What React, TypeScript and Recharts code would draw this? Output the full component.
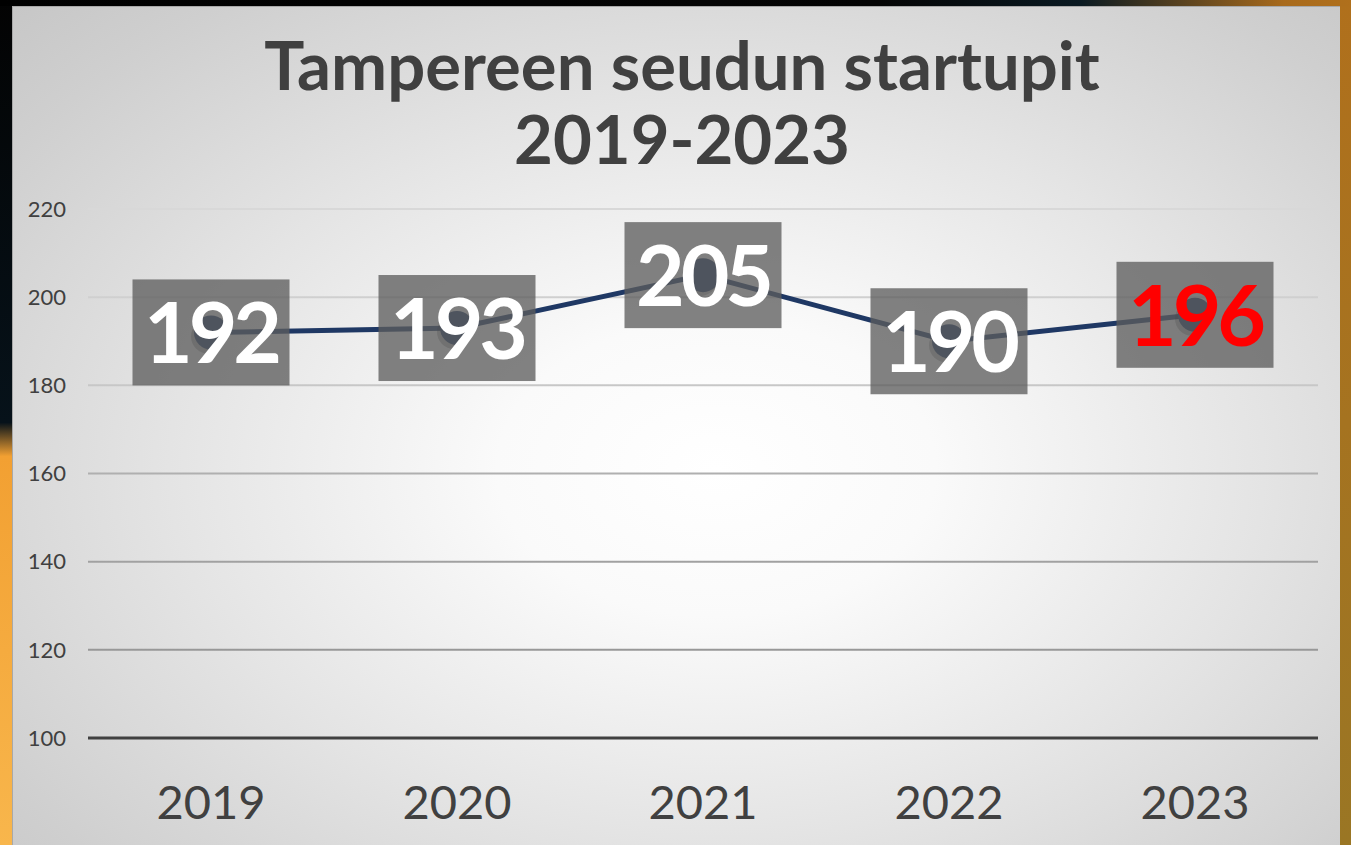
import { LineChart, Line, XAxis, YAxis, CartesianGrid } from 'recharts'

const years = ['2019', '2020', '2021', '2022', '2023']
const startups = [192, 193, 205, 190, 196]
const yTicks = [100, 120, 140, 160, 180, 200, 220]
const highlightYear = '2023'

const data = years.map((year, i) => ({ year, startups: startups[i] }))

const FONT = 'Lato, "Open Sans", sans-serif'
const INK = '#404040'

function ValueLabel(props: any) {
    const { x, y, value, index } = props
    const red = years[index] === highlightYear
    return (
        <g>
            <rect x={x - 78.5} y={y - 53} width={157} height={106} fill="#5d5d5d" fillOpacity={0.77} />
            <text
                x={x}
                y={y + 31}
                textAnchor="middle"
                fontFamily={FONT}
                fontSize={84}
                fontWeight={700}
                letterSpacing={-4}
                fill={red ? '#ff0000' : '#ffffff'}
            >
                {value}
            </text>
        </g>
    )
}

function Marker(props: any) {
    const { cx, cy, index } = props
    return (
        <g key={`m-${index}`}>
            <circle cx={cx - 3} cy={cy + 4} r={17} fill="#000" fillOpacity={0.25} />
            <circle cx={cx} cy={cy} r={17} fill="#1f3864" />
        </g>
    )
}

export default function App() {
    return (
        <div
            style={{
                position: 'absolute',
                left: 0,
                top: 0,
                width: 1351,
                height: 845,
                overflow: 'hidden',
                background: 'linear-gradient(to bottom, #030303 0%, #06121a 50%, #f2a032 54%, #f8b64c 100%)',
            }}
        >
            <div
                style={{
                    position: 'absolute',
                    right: 0,
                    top: 0,
                    width: 14,
                    height: 845,
                    background: 'linear-gradient(to bottom, #b0701c 0%, #9a7624 100%)',
                }}
            />
            <div
                style={{
                    position: 'absolute',
                    left: 0,
                    top: 0,
                    width: 1351,
                    height: 6,
                    background: 'linear-gradient(to right, #000 0%, #050505 65%, #0a1a22 80%, #a86a1c 95%, #b0701c 100%)',
                }}
            />
            <div
                style={{
                    position: 'absolute',
                    left: 12,
                    top: 6,
                    width: 1327,
                    height: 839,
                    background:
                        'radial-gradient(ellipse 75% 80% at 53% 55%, #ffffff 0%, #fafafa 22%, #e4e4e4 55%, #cfcfcf 85%, #c6c6c6 100%)',
                    borderTop: '1px solid #a8a8a8',
                    borderLeft: '1px solid #a8a8a8',
                }}
            />
            <div
                style={{
                    position: 'absolute',
                    left: 0,
                    top: 27,
                    width: 1364,
                    textAlign: 'center',
                    fontFamily: FONT,
                    fontWeight: 700,
                    fontSize: 67,
                    lineHeight: '74px',
                    color: INK,
                }}
            >
                Tampereen seudun startupit
                <br />
                2019-2023
            </div>
            <div style={{ position: 'absolute', left: 0, top: 0 }}>
                <LineChart width={1351} height={845} data={data} margin={{ top: 209, right: 33, bottom: 7, left: 28 }}>
                    <defs>
                        <linearGradient id="gridShade" gradientUnits="userSpaceOnUse" x1={0} y1={209} x2={0} y2={738}>
                            <stop offset="0%" stopColor="#d8d8d8" />
                            <stop offset="35%" stopColor="#c6c6c6" />
                            <stop offset="55%" stopColor="#a8a8a8" />
                            <stop offset="100%" stopColor="#8e8e8e" />
                        </linearGradient>
                    </defs>
                    <CartesianGrid vertical={false} stroke="url(#gridShade)" strokeWidth={2} />
                    <XAxis
                        dataKey="year"
                        height={100}
                        padding={{ left: 123, right: 123 }}
                        tickLine={false}
                        tickMargin={42}
                        axisLine={{ stroke: INK, strokeWidth: 3 }}
                        tick={{ fontFamily: FONT, fontSize: 47, fill: INK }}
                    />
                    <YAxis
                        width={60}
                        domain={[100, 220]}
                        ticks={yTicks}
                        tickLine={false}
                        axisLine={false}
                        tickMargin={16}
                        tick={{ fontFamily: FONT, fontSize: 22, fill: INK }}
                    />
                    <Line
                        type="linear"
                        dataKey="startups"
                        stroke="#1f3864"
                        strokeWidth={5}
                        dot={Marker}
                        activeDot={false}
                        label={ValueLabel}
                        isAnimationActive={false}
                    />
                </LineChart>
            </div>
        </div>
    )
}
